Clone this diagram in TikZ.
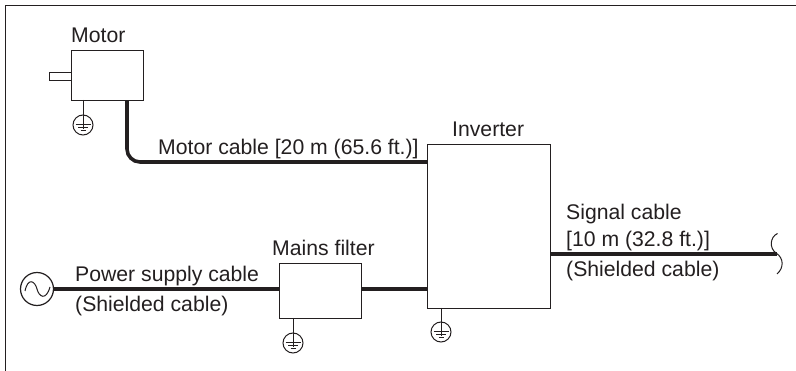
\documentclass[tikz,border=0pt]{standalone}
\usepackage{fontspec}
\setmainfont{Liberation Sans}
\definecolor{ink}{HTML}{231F20}
\tikzset{
  x=1pt,y=-1pt,
  box/.style={draw=ink,line width=1.2pt,fill=white,inner sep=0pt,minimum width=#1,anchor=north west},
  thick cable/.style={draw=ink,line width=3.6pt},
  thin wire/.style={draw=ink,line width=1pt},
  lab/.style={font=\fontsize{21.2}{24}\selectfont,text=ink,inner sep=0pt,anchor=base west},
  gnd/.pic={
    \draw[thin wire] (0,-10) -- (0,4);
    \draw[thin wire] (0,0) circle[radius=10];
    \draw[thin wire] (-7.5,0) -- (7.5,0);
    \draw[thin wire] (-5,3) -- (5,3);
    \draw[thin wire] (-2.5,6) -- (2.5,6);
  }
}
\begin{document}
\begin{tikzpicture}
\useasboundingbox (0,0) rectangle (796,371);
\draw[draw=ink,line width=1.2pt] (5.5,371) -- (5.5,5.5) -- (796,5.5);
% boxes
\node[box=72.5pt,minimum height=50pt] (motor) at (70.5,50) {};
\node[box=22pt,minimum height=8pt] (shaft) at (48.5,72) {};
\node[box=123pt,minimum height=164pt] (inverter) at (427,144) {};
\node[box=82.5pt,minimum height=55pt] (filter) at (278.5,263) {};
\node[draw=ink,line width=1.2pt,circle,minimum size=33pt,inner sep=0pt] (source) at (37,289) {};
% grounds
\coordinate (mg) at (83,125);
\coordinate (ig) at (441,332);
\coordinate (fg) at (293,343);
\draw[thin wire] (83,100) -- (mg);
\draw[thin wire] (441,308) -- (ig);
\draw[thin wire] (293,318) -- (fg);
\pic at (mg) {gnd};
\pic at (ig) {gnd};
\pic at (fg) {gnd};
% cables
\coordinate (mc) at (127,100.5);
\coordinate (ic1) at (427,162);
\draw[thick cable,rounded corners=13pt] (mc) -- (127,162) -- (ic1);
\draw[thick cable] (source.east) -- (filter.west |- source.east);
\draw[thick cable] (filter.east |- source.east) -- (inverter.west |- source.east);
\coordinate (sigend) at (777,254);
\draw[thick cable] (inverter.east |- sigend) -- (sigend);
% break mark
\draw[thin wire] (777.5,233.5) .. controls (770,237) and (769,248) .. (776,253) .. controls (784,258) and (784,268) .. (777,274);
% sine
\draw[thin wire] (25,291) .. controls (28,277) and (35,281) .. (37,289) .. controls (39,297) and (46,301) .. (50,287);
% labels
\node[lab] at (71,43) {Motor};
\node[lab] at (158,155) {Motor cable [20 m (65.6 ft.)]};
\node[lab] at (452,137) {Inverter};
\node[lab] at (566,220) {Signal cable};
\node[lab] at (566,247) {[10 m (32.8 ft.)]};
\node[lab] at (566,277) {(Shielded cable)};
\node[lab] at (75,282) {Power supply cable};
\node[lab] at (75,312) {(Shielded cable)};
\node[lab] at (272,256) {Mains filter};
\end{tikzpicture}
\end{document}
